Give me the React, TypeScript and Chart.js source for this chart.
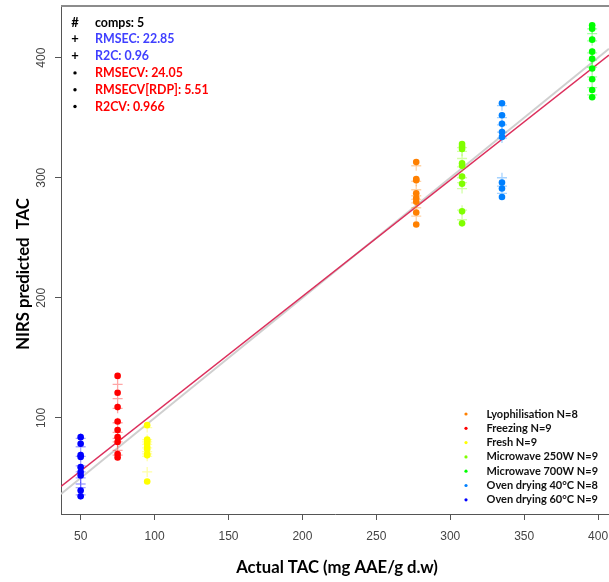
import React, { useEffect, useRef } from "react";
import { Chart, registerables } from "chart.js";

Chart.register(...registerables);

// ---- data ----
const groupNames = [
  "Lyophilisation N=8",
  "Freezing N=9",
  "Fresh N=9",
  "Microwave 250W N=9",
  "Microwave 700W N=9",
  "Oven drying 40°C N=8",
  "Oven drying 60°C N=9",
];
const groupColors = ["#ff8000", "#ff0000", "#ffff00", "#80ff00", "#00ff00", "#0080ff", "#0000ff"];
const actualTAC = [277, 75, 95, 308, 396, 335, 50];

// cross-validated predictions (dots)
const cvLyophilisation = [313, 299, 298, 287, 283, 280, 271, 261];
const cvFreezing = [135, 121, 109, 97, 90, 84, 80, 70, 67];
const cvFresh = [94, 82, 81, 79, 76, 74, 70, 69, 47];
const cvMicrowave250 = [328, 326, 324, 312, 310, 301, 295, 272, 262];
const cvMicrowave700 = [427, 424, 415, 405, 399, 391, 382, 373, 367];
const cvOven40 = [362, 352, 345, 338, 334, 296, 291, 284];
const cvOven60 = [84, 78.5, 69, 67.5, 59, 55, 52, 39.6, 34.8];

// calibration predictions (crosses)
const calLyophilisation = [310, 297, 290, 285, 282, 279, 275, 268];
const calFreezing = [128, 116, 108, 96, 88, 83, 80, 73, 69];
const calFresh = [92, 82, 80, 78, 75, 72, 70, 55, 68];
const calMicrowave250 = [325, 322, 316, 309, 300, 296, 291, 273, 265];
const calMicrowave700 = [424, 420, 414, 404, 398, 392, 384, 375, 369];
const calOven40 = [360, 350, 344, 338, 333, 300, 293, 287];
const calOven60 = [83, 76, 68, 60, 55, 50, 42, 36, 45];

const cvSeries = [cvLyophilisation, cvFreezing, cvFresh, cvMicrowave250, cvMicrowave700, cvOven40, cvOven60];
const calSeries = [calLyophilisation, calFreezing, calFresh, calMicrowave250, calMicrowave700, calOven40, calOven60];

// fitted line (CV) and 1:1 line
const fitIntercept = 7.4;
const fitSlope = 0.969;

const xTicks = [50, 100, 150, 200, 250, 300, 350, 400];
const yTicks = [100, 200, 300, 400];
const xMin = 36.7;
const xMax = 407.4;
const yMin = 20;
const yMax = 443;

const statSymbols = ["#", "+", "+", "•", "•", "•"];
const statLabels = ["comps: 5", "RMSEC: 22.85", "R2C: 0.96", "RMSECV: 24.05", "RMSECV[RDP]: 5.51", "R2CV: 0.966"];
const statColors = ["#000000", "#4040ff", "#4040ff", "#ff0000", "#ff0000", "#ff0000"];

const xTitle = "Actual TAC (mg AAE/g d.w)";
const yTitle = "NIRS predicted  TAC";

function withAlpha(hex: string, a: number) {
  const r = parseInt(hex.slice(1, 3), 16);
  const g = parseInt(hex.slice(3, 5), 16);
  const b = parseInt(hex.slice(5, 7), 16);
  return `rgba(${r},${g},${b},${a})`;
}

const overlay = {
  id: "overlay",
  afterDraw(chart: any) {
    const { ctx, chartArea, scales } = chart;
    const ys = scales.y;
    ctx.save();
    // top frame line
    ctx.strokeStyle = "#8c8c8c";
    ctx.lineWidth = 2;
    ctx.beginPath();
    ctx.moveTo(chartArea.left, chartArea.top);
    ctx.lineTo(chartArea.right, chartArea.top);
    ctx.stroke();

    // y tick labels (rotated)
    ctx.fillStyle = "#444";
    ctx.font = '12px "Liberation Sans"';
    ctx.textAlign = "center";
    ctx.textBaseline = "middle";
    yTicks.forEach((v) => {
      const py = ys.getPixelForValue(v);
      ctx.save();
      ctx.translate(42, py);
      ctx.rotate(-Math.PI / 2);
      ctx.fillText(String(v), 0, 0);
      ctx.restore();
    });

    // axis titles
    ctx.fillStyle = "#000";
    ctx.font = 'bold 16.7px "Lato"';
    ctx.textAlign = "center";
    ctx.textBaseline = "middle";
    ctx.fillText(xTitle, 337, 568);
    ctx.save();
    ctx.translate(24, 274);
    ctx.rotate(-Math.PI / 2);
    ctx.fillText(yTitle, 0, 0);
    ctx.restore();

    // stats box
    ctx.textBaseline = "middle";
    statLabels.forEach((t, i) => {
      const py = 22.5 + i * 16.8;
      ctx.fillStyle = "#000";
      if (statSymbols[i] === "•") {
        ctx.beginPath();
        ctx.arc(75, py, 1.7, 0, Math.PI * 2);
        ctx.fill();
      } else {
        ctx.font = 'bold 13px "Lato"';
        ctx.textAlign = "center";
        ctx.fillText(statSymbols[i], 75, py);
      }
      ctx.font = 'bold 12.4px "Lato"';
      ctx.fillStyle = statColors[i];
      ctx.textAlign = "left";
      ctx.fillText(t, 95, py);
    });

    // legend
    ctx.font = 'bold 11px "Lato"';
    groupNames.forEach((name, i) => {
      const py = 414 + i * 14.3;
      ctx.fillStyle = groupColors[i];
      ctx.beginPath();
      ctx.arc(466, py, 1.6, 0, Math.PI * 2);
      ctx.fill();
      ctx.fillStyle = "#111";
      ctx.textAlign = "left";
      ctx.fillText(name, 486.5, py);
    });
    ctx.restore();
  },
};

export default function App() {
  const ref = useRef<HTMLCanvasElement | null>(null);
  useEffect(() => {
    if (!ref.current) return;
    const datasets: any[] = [];
    datasets.push({
      type: "line",
      data: [
        { x: xMin, y: xMin },
        { x: xMax, y: xMax },
      ],
      borderColor: "#cfcfcf",
      borderWidth: 2,
      pointRadius: 0,
      order: 10,
    });
    datasets.push({
      type: "line",
      data: [
        { x: xMin, y: fitIntercept + fitSlope * xMin },
        { x: xMax, y: fitIntercept + fitSlope * xMax },
      ],
      borderColor: "#dc2f5c",
      borderWidth: 1.5,
      pointRadius: 0,
      order: 9,
    });
    calSeries.forEach((arr, i) => {
      datasets.push({
        type: "scatter",
        data: arr.map((v) => ({ x: actualTAC[i], y: v })),
        pointStyle: "cross",
        pointRadius: 5,
        borderWidth: 1.3,
        borderColor: withAlpha(groupColors[i], 0.35),
        backgroundColor: withAlpha(groupColors[i], 0.35),
        order: 5,
      });
    });
    cvSeries.forEach((arr, i) => {
      datasets.push({
        type: "scatter",
        data: arr.map((v) => ({ x: actualTAC[i], y: v })),
        pointStyle: "circle",
        pointRadius: 3.3,
        borderWidth: 0,
        backgroundColor: groupColors[i],
        borderColor: groupColors[i],
        order: 1,
      });
    });

    const chart = new Chart(ref.current, {
      type: "scatter",
      data: { datasets },
      options: {
        animation: false,
        responsive: false,
        devicePixelRatio: 1,
        layout: { autoPadding: false, padding: { top: 6, left: 0, right: 0, bottom: 0 } },
        plugins: { legend: { display: false }, tooltip: { enabled: false } },
        scales: {
          x: {
            type: "linear",
            min: xMin,
            max: xMax,
            afterBuildTicks: (s: any) => {
              s.ticks = xTicks.map((v) => ({ value: v }));
            },
            afterFit: (s: any) => {
              s.height = 68;
              s.paddingLeft = 0;
              s.paddingRight = 0;
            },
            grid: { display: true, drawOnChartArea: false, drawTicks: true, tickLength: 6, color: "#555" },
            border: { display: true, color: "#555", width: 1 },
            ticks: {
              color: "#444",
              font: { family: "Liberation Sans", size: 12 },
              padding: 9,
              maxRotation: 0,
              minRotation: 0,
              autoSkip: false,
            },
          },
          y: {
            type: "linear",
            min: yMin,
            max: yMax,
            afterBuildTicks: (s: any) => {
              s.ticks = yTicks.map((v) => ({ value: v }));
            },
            afterFit: (s: any) => {
              s.width = 61;
              s.paddingTop = 0;
              s.paddingBottom = 0;
            },
            grid: { display: true, drawOnChartArea: false, drawTicks: true, tickLength: 6, color: "#555" },
            border: { display: true, color: "#555", width: 1 },
            ticks: { display: false },
          },
        },
      },
      plugins: [overlay],
    });
    return () => chart.destroy();
  }, []);
  return (
    <div style={{ position: "fixed", left: 0, top: 0, width: 609, height: 582, background: "#fff" }}>
      <canvas ref={ref} width={609} height={582} />
    </div>
  );
}
